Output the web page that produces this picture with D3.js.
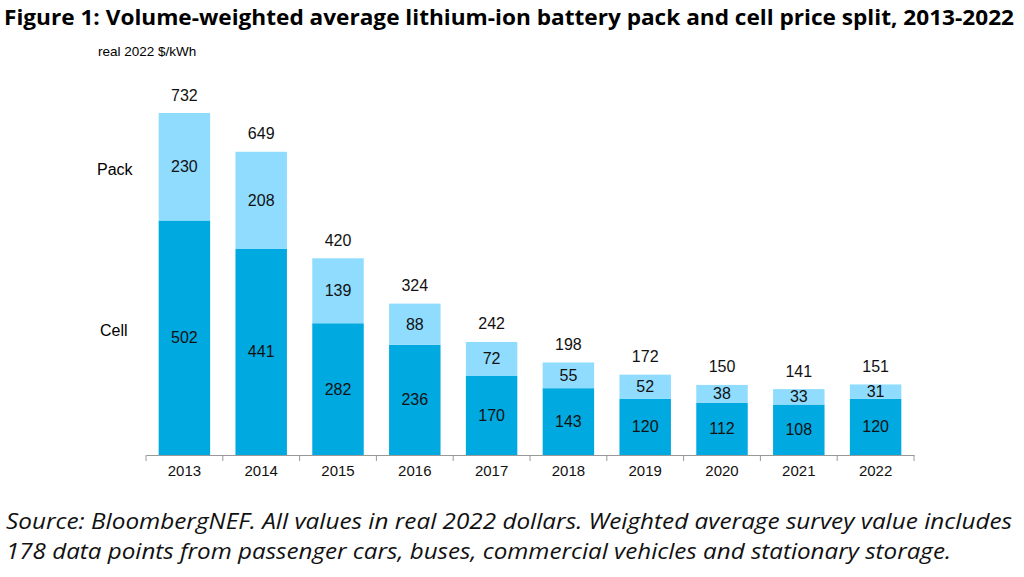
<!DOCTYPE html><html><head><meta charset="utf-8"><script src="https://cdn.jsdelivr.net/npm/d3@7"></script>
<style>body{margin:0;background:#fff}</style></head><body><svg id="c" width="1024" height="577"></svg>
<script>
const years=["2013","2014","2015","2016","2017","2018","2019","2020","2021","2022"];
const cell=[502,441,282,236,170,143,120,112,108,120];
const pack=[230,208,139,88,72,55,52,38,33,31];
const totals=[732,649,420,324,242,198,172,150,141,151];
const svg=d3.select("#c");
const x=d3.scaleBand().domain(years).range([146,914]).paddingInner(0.33).paddingOuter(0.165);
const y=d3.scaleLinear().domain([0,732]).range([455,113]);
const f="Liberation Sans, Arial, sans-serif";
svg.append("text").attr("x",4).attr("y",25).attr("font-family","Open Sans").attr("font-weight","bold").attr("font-size",21.5).attr("textLength",1010).attr("lengthAdjust","spacingAndGlyphs").attr("fill","#000").text("Figure 1: Volume-weighted average lithium-ion battery pack and cell price split, 2013-2022");
svg.append("text").attr("x",98).attr("y",56).attr("font-family",f).attr("font-size",13.5).text("real 2022 $/kWh");
const g=svg.append("g");
years.forEach((yr,i)=>{
  const bx=x(yr),w=x.bandwidth(),cx=bx+w/2;
  g.append("rect").attr("x",bx).attr("width",w).attr("y",y(cell[i])).attr("height",y(0)-y(cell[i])).attr("fill","#00a9e0");
  g.append("rect").attr("x",bx).attr("width",w).attr("y",y(cell[i]+pack[i])).attr("height",y(cell[i])-y(cell[i]+pack[i])).attr("fill","#8fdcff");
  const t=(v,yy)=>g.append("text").attr("x",cx).attr("y",yy).attr("text-anchor","middle").attr("dominant-baseline","central").attr("font-family",f).attr("font-size",16).attr("fill","#111").text(v);
  t(cell[i],(y(0)+y(cell[i]))/2);
  t(pack[i],(y(cell[i])+y(cell[i]+pack[i]))/2);
  t(totals[i],y(cell[i]+pack[i])-18);
});
const ax=svg.append("g").attr("transform","translate(0,455)").call(d3.axisBottom(x).tickSizeOuter(0).tickSize(0).tickPadding(10));
ax.select(".domain").attr("stroke","#999");
ax.selectAll("text").attr("font-family",f).attr("font-size",15).attr("fill","#111");
const edges=years.map(d=>x(d)-x.step()*x.paddingInner()/2).concat([914]);
edges[0]=146;
svg.selectAll(".tk").data(edges).join("line").attr("x1",d=>d).attr("x2",d=>d).attr("y1",455).attr("y2",461).attr("stroke","#999");
svg.append("text").attr("x",97).attr("y",175).attr("font-family",f).attr("font-size",16).text("Pack");
svg.append("text").attr("x",100).attr("y",336).attr("font-family",f).attr("font-size",16).text("Cell");
const s=svg.append("text").attr("font-family","Open Sans").attr("font-style","italic").attr("font-size",21).attr("fill","#111");
s.append("tspan").attr("x",6).attr("y",529).attr("textLength",1006).attr("lengthAdjust","spacingAndGlyphs").text("Source: BloombergNEF. All values in real 2022 dollars. Weighted average survey value includes");
s.append("tspan").attr("x",6).attr("y",559).attr("textLength",945).attr("lengthAdjust","spacingAndGlyphs").text("178 data points from passenger cars, buses, commercial vehicles and stationary storage.");
</script></body></html>
